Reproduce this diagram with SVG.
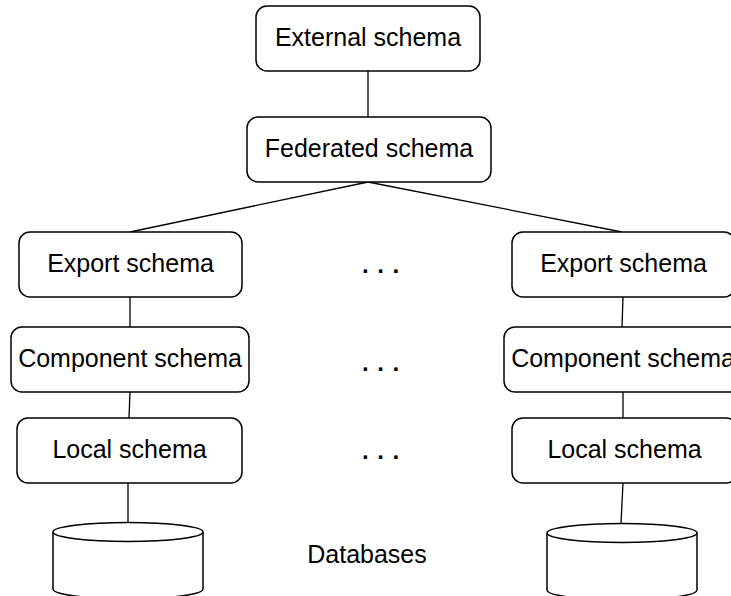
<svg xmlns="http://www.w3.org/2000/svg" width="731" height="596" viewBox="0 0 731 596">
  <style>
    .box { fill: #ffffff; stroke: #000000; stroke-width: 1.5; }
    .db { fill: #ffffff; stroke: #000000; stroke-width: 1.5; }
    .link { fill: none; stroke: #000000; stroke-width: 1.3; }
    .lbl { font-family: "Liberation Sans", Arial, sans-serif; font-size: 25px; fill: #000000; text-anchor: middle; }
    .dots { font-family: "Liberation Sans", Arial, sans-serif; font-size: 24px; font-weight: bold; fill: #000000; letter-spacing: 8.6px; }
  </style>
  <rect width="731" height="596" fill="#ffffff"/>

  <g id="connectors">
    <line class="link" x1="368" y1="71" x2="368" y2="117"/>
    <line class="link" x1="368" y1="182" x2="130" y2="232"/>
    <line class="link" x1="368" y1="182" x2="622" y2="232"/>
    <line class="link" x1="130" y1="297" x2="130" y2="327"/>
    <line class="link" x1="130" y1="392" x2="129" y2="418"/>
    <line class="link" x1="128" y1="483" x2="128" y2="522"/>
    <line class="link" x1="623" y1="297" x2="622" y2="327"/>
    <line class="link" x1="623" y1="392" x2="623" y2="418"/>
    <line class="link" x1="623" y1="483" x2="621" y2="523"/>
  </g>

  <g id="external">
    <rect class="box" x="256" y="6" width="224" height="65" rx="11"/>
    <text class="lbl" x="368" y="46">External schema</text>
  </g>
  <g id="federated">
    <rect class="box" x="247" y="117" width="244" height="65" rx="11"/>
    <text class="lbl" x="369" y="157">Federated schema</text>
  </g>

  <g id="export-1">
    <rect class="box" x="19" y="232" width="223" height="65" rx="11"/>
    <text class="lbl" x="130.5" y="272">Export schema</text>
  </g>
  <g id="component-1">
    <rect class="box" x="11" y="327" width="238" height="65" rx="11"/>
    <text class="lbl" x="130" y="367">Component schema</text>
  </g>
  <g id="local-1">
    <rect class="box" x="17" y="418" width="225" height="65" rx="11"/>
    <text class="lbl" x="129.5" y="458">Local schema</text>
  </g>
  <g id="database-1">
    <path class="db" d="M53,532 L53,589 A75,10 0 0 0 203,589 L203,532"/>
    <ellipse class="db" cx="128" cy="532" rx="75" ry="9.5"/>
  </g>

  <g id="export-n">
    <rect class="box" x="512" y="232" width="223" height="65" rx="11"/>
    <text class="lbl" x="623.5" y="272">Export schema</text>
  </g>
  <g id="component-n">
    <rect class="box" x="504" y="327" width="238" height="65" rx="11"/>
    <text class="lbl" x="623" y="367">Component schema</text>
  </g>
  <g id="local-n">
    <rect class="box" x="512" y="418" width="225" height="65" rx="11"/>
    <text class="lbl" x="624.5" y="458">Local schema</text>
  </g>
  <g id="database-n">
    <path class="db" d="M547,533 L547,590 A75,10 0 0 0 697,590 L697,533"/>
    <ellipse class="db" cx="622" cy="533" rx="75" ry="9.5"/>
  </g>

  <g id="ellipses">
    <text class="dots" x="362" y="273">...</text>
    <text class="dots" x="362" y="371">...</text>
    <text class="dots" x="362" y="459">...</text>
  </g>

  <g id="databases-label">
    <text class="lbl" x="367" y="563">Databases</text>
  </g>
</svg>
